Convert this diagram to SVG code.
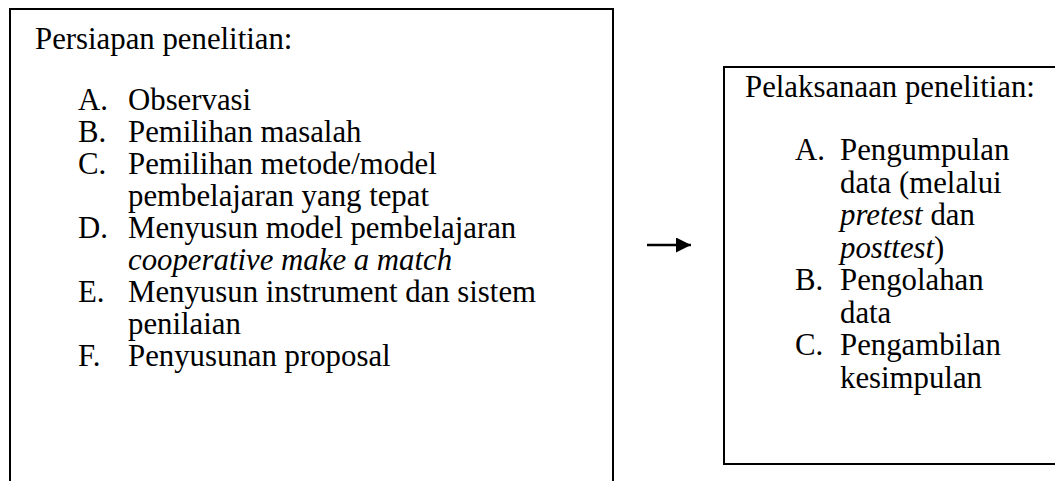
<svg xmlns="http://www.w3.org/2000/svg" width="1055" height="481" viewBox="0 0 1055 481">
<defs>
<style>
.box{fill:none;stroke:#000;stroke-width:2}
.t{font-family:"Liberation Serif","Times New Roman",serif;font-size:30.8px;fill:#000}
.i{font-style:italic}
.c{stroke:#000;stroke-width:2.5;fill:none}
</style>
<marker id="ah" viewBox="0 0 10 10" refX="10" refY="5" markerWidth="6" markerHeight="6" orient="auto" markerUnits="strokeWidth">
<path d="M0,0 L10,5 L0,10 z" fill="#000"/>
</marker>
</defs>
<rect width="1055" height="481" fill="#fff"/>
<g id="persiapan">
<path class="box" d="M10,490 V9 H613 V490"/>
<text class="t" x="35" y="49">Persiapan penelitian:</text>
<text class="t" x="78" y="110">A.</text><text class="t" x="128" y="110">Observasi</text>
<text class="t" x="78" y="142">B.</text><text class="t" x="128" y="142">Pemilihan masalah</text>
<text class="t" x="78" y="174">C.</text><text class="t" x="128" y="174">Pemilihan metode/model</text>
<text class="t" x="128" y="206">pembelajaran yang tepat</text>
<text class="t" x="78" y="238">D.</text><text class="t" x="128" y="238">Menyusun model pembelajaran</text>
<text class="t i" x="128" y="270">cooperative make a match</text>
<text class="t" x="78" y="302">E.</text><text class="t" x="128" y="302">Menyusun instrument dan sistem</text>
<text class="t" x="128" y="334">penilaian</text>
<text class="t" x="78" y="366">F.</text><text class="t" x="128" y="366">Penyusunan proposal</text>
</g>
<g id="pelaksanaan">
<path class="box" d="M1060,67 H724 V464 H1060"/>
<text class="t" x="745" y="97">Pelaksanaan penelitian:</text>
<text class="t" x="795" y="160">A.</text><text class="t" x="840" y="160">Pengumpulan</text>
<text class="t" x="840" y="192.5">data (melalui</text>
<text class="t" x="840" y="225"><tspan class="i">pretest</tspan> dan</text>
<text class="t" x="840" y="257.5"><tspan class="i">posttest</tspan>)</text>
<text class="t" x="795" y="290">B.</text><text class="t" x="840" y="290">Pengolahan</text>
<text class="t" x="840" y="322.5">data</text>
<text class="t" x="795" y="355">C.</text><text class="t" x="840" y="355">Pengambilan</text>
<text class="t" x="840" y="387.5">kesimpulan</text>
</g>
<g id="connectors">
<line class="c" x1="647" y1="245" x2="691" y2="245" marker-end="url(#ah)"/>
</g>
</svg>
